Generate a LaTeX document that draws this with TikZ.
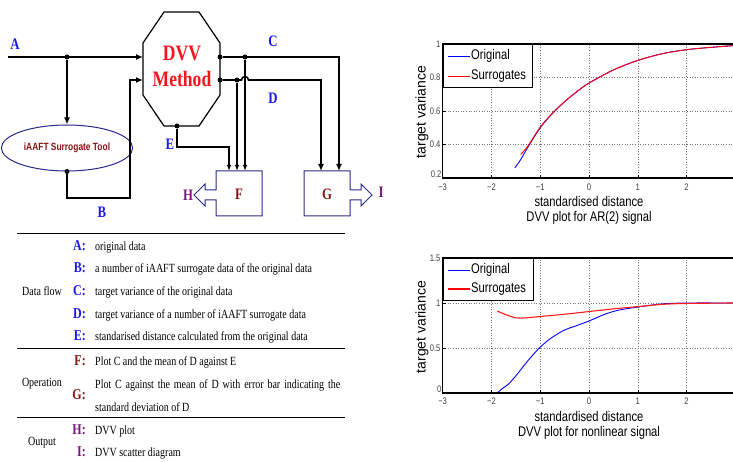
\documentclass[tikz,border=0pt]{standalone}
\usepackage{fontspec}
\setmainfont[FakeStretch=0.8]{Liberation Serif}
\setsansfont[FakeStretch=0.8]{Liberation Sans}
\newfontfamily\axisfont{Liberation Sans}
\usetikzlibrary{positioning, arrows.meta, shapes.geometric, calc}
\definecolor{flowblue}{RGB}{25, 25, 235}
\definecolor{opred}{RGB}{135, 20, 20}
\definecolor{outpurple}{RGB}{125, 20, 125}
\definecolor{boxnavy}{RGB}{40, 40, 140}
\definecolor{dvvred}{RGB}{245, 20, 30}

\tikzset{
  mainflow/.style={line width=2.2pt, -{Latex[length=7pt,width=6pt]}},
  subflow/.style={line width=1.6pt, -{Latex[length=7pt,width=6pt]}},
  outflow/.style={line width=1.2pt, -{Latex[length=6pt,width=4.5pt]}},
  junction/.style={circle, fill=black, inner sep=0pt, minimum size=5pt},
  flowlabel/.style={font=\bfseries\fontsize{16}{16}\selectfont, text=flowblue},
  boxlabel/.style={font=\bfseries\fontsize{16}{16}\selectfont},
  boxline/.style={draw=boxnavy, line width=1pt},
  rowkey/.style={anchor=east, inner sep=0pt, text height=10pt, text depth=2.5pt,
                 font=\bfseries\fontsize{15}{15}\selectfont},
  rowtext/.style={anchor=west, inner sep=0pt, text height=9pt, text depth=2.5pt,
                  font=\fontsize{12.5}{14}\selectfont},
  gridline/.style={black!55, dotted, line width=0.6pt},
  axisline/.style={black, line width=1.2pt},
  ticklabel/.style={font=\sffamily\fontsize{9.5}{9.5}\selectfont, text=black!75, inner sep=0pt},
  plotlabel/.style={font=\sffamily\fontsize{14}{14}\selectfont, inner sep=0pt},
  legendbox/.style={draw, line width=1.1pt, fill=white, inner sep=0pt, anchor=north west}
}

\begin{document}
\begin{tikzpicture}[x=1pt, y=-1pt]
  \useasboundingbox (0,0) rectangle (733,462);

  % DVV method block
  \draw[line width=1.2pt] (164,12) -- (199,12) -- (220,43) -- (220,95) -- (199,126)
    -- (164,126) -- (143,95) -- (143,43) -- cycle;
  \node[font=\bfseries\fontsize{22}{26}\selectfont, text=dvvred, align=center] (dvv) at (182,66) {DVV\\Method};
  \coordinate (srcA) at (8,57);
  \coordinate (inA) at (143,57);
  \coordinate (inB) at (143,80);
  \coordinate (bendB) at (130,198);

  \node[ellipse, draw=boxnavy, line width=1pt, minimum width=102, minimum height=46,
        font=\sffamily\bfseries\fontsize{10.5}{10.5}\selectfont, text=opred] (tool) at (67,148) {iAAFT Surrogate Tool};

  % junctions
  \node[junction] (jA) at (67,57) {};
  \node[junction] (jB) at (tool.south) {};
  \node[junction] (dC) at (220,57) {};
  \node[junction] (dD) at (220,80) {};
  \node[junction] (dE) at (177,126) {};
  \node[junction] (jC) at (245,57) {};
  \node[junction] (jD) at (237,80) {};

  % operation boxes
  \draw[boxline] (216,171) -- (262,171) -- (262,216) -- (216,216) -- (216,200) -- (205,200)
    -- (205,206) -- (194,195) -- (205,184) -- (205,190) -- (216,190) -- cycle;
  \draw[boxline] (304,171) -- (350,171) -- (350,190) -- (361,190) -- (361,184) -- (372,195)
    -- (361,206) -- (361,200) -- (350,200) -- (350,216) -- (304,216) -- cycle;
  \node[boxlabel, text=opred] (boxF) at (239,194) {F};
  \node[boxlabel, text=opred] (boxG) at (327,194) {G};
  \node[boxlabel, text=outpurple] (outH) at (188,195) {H};
  \node[boxlabel, text=outpurple] (outI) at (381,192) {I};
  \coordinate (fE) at (229,171);
  \coordinate (fD) at (237,171);
  \coordinate (fC) at (245,171);
  \coordinate (gD) at (321,171);
  \coordinate (gC) at (339,171);

  % data flow
  \draw[mainflow] (srcA) -- (inA);
  \draw[subflow] (jA) -- (tool.north);
  \draw[subflow] (jB) |- (bendB) |- (inB);
  \draw[subflow] (dC) -| (gC);
  \draw[subflow] (dD) -- ($(jC |- dD)+(-3.5,0)$) arc[start angle=180, end angle=360, radius=3.5] -| (gD);
  \draw[outflow] (jC) -- (fC);
  \draw[outflow] (jD) -- (fD);
  \draw[outflow] (dE) -- ++(0,21) -| (fE);

  \node[flowlabel] (labA) at (15,44) {A};
  \node[flowlabel] (labB) at (102,212) {B};
  \node[flowlabel] (labC) at (273,41) {C};
  \node[flowlabel] (labD) at (273,98) {D};
  \node[flowlabel] (labE) at (170,144) {E};

  % legend table
  \draw[line width=0.9pt] (17,233) -- (345,233);
  \draw[line width=0.9pt] (17,348) -- (345,348);
  \draw[line width=0.9pt] (17,417) -- (345,417);
  \node[rowtext, anchor=center] (catflow) at (42,292) {Data flow};
  \node[rowtext, anchor=center] (catop) at (42,383) {Operation};
  \node[rowtext, anchor=center] (catout) at (42,442) {Output};
  \foreach \ky/\kl/\kt in {247/A/original data,
      269/B/a number of iAAFT surrogate data of the original data,
      292/C/target variance of the original data,
      315/D/target variance of a number of iAAFT surrogate data,
      337/E/standarised distance calculated from the original data} {
    \node[rowkey, text=flowblue] (key\kl) at (86,\ky) {\kl:};
    \node[rowtext] (txt\kl) at (95,\ky) {\kt};
  }
  \node[rowkey, text=opred] (keyF) at (86,362) {F:};
  \node[rowtext] (txtF) at (95,362) {Plot C and the mean of D against E};
  \node[rowkey, text=opred] (keyG) at (86,396) {G:};
  \node[rowtext, text height=, text depth=, text width=245pt, align=justify,
        font=\fontsize{12.5}{23}\selectfont] (txtG) at (95,396)
    {Plot C against the mean of D with error bar indicating the\linebreak standard deviation of D};
  \node[rowkey, text=outpurple] (keyH) at (86,431) {H:};
  \node[rowtext] (txtH) at (95,431) {DVV plot};
  \node[rowkey, text=outpurple] (keyI) at (86,453) {I:};
  \node[rowtext] (txtI) at (95,453) {DVV scatter diagram};

  % DVV plot, AR(2) signal
  \begin{scope}[shift={(589,211.5)}, x=48.8pt, y=167.5pt]
    \foreach \gx in {-2,...,2} \draw[gridline] (\gx,0.2) -- (\gx,1);
    \foreach \gy in {0.4,0.6,0.8} \draw[gridline] (-3,\gy) -- (2.95,\gy);
    \draw[blue, line width=0.9pt] plot[smooth] coordinates {(-1.52,0.26) (-1.4,0.31) (-1.25,0.385)
      (-1,0.5) (-0.75,0.585) (-0.5,0.655) (-0.25,0.715) (0,0.767) (0.5,0.845) (1,0.902)
      (1.5,0.942) (2,0.966) (2.5,0.98) (2.95,0.99)};
    \draw[red, line width=0.9pt] plot[smooth] coordinates {(-1.4,0.34) (-1.25,0.392) (-1,0.503)
      (-0.75,0.587) (-0.5,0.656) (-0.25,0.716) (0,0.767) (0.5,0.845) (1,0.902)
      (1.5,0.942) (2,0.966) (2.5,0.98) (2.95,0.99)};
    \draw[axisline] (2.95,1) -- (-3,1) -- (-3,0.2) -- (2.95,0.2);
    \foreach \gx/\gl in {-3/−3,-2/−2,-1/−1,0/0,1/1,2/2} {
      \draw[black, line width=0.5pt] (\gx,0.2) -- ++(0pt,3pt);
      \node[ticklabel, anchor=north] at ([yshift=-6pt]\gx,0.2) {\gl};
    }
    \foreach \gy in {0.4,0.6,0.8,1} {
      \draw[black, line width=0.5pt] (-3,\gy) -- ++(3pt,0pt);
      \node[ticklabel, anchor=east] at ([xshift=-2pt]-3,\gy) {\gy};
    }
    \node[ticklabel, anchor=south east] at ([xshift=-1pt]-3,0.2) {0.2};
  \end{scope}
  \node[legendbox, minimum width=89, minimum height=43] (legAR) at (443,44) {};
  \draw[blue, line width=0.9pt] (448,56) -- (470,56);
  \draw[red, line width=0.9pt] (448,76) -- (470,76);
  \node[plotlabel, anchor=west] (legARo) at (471,56) {Original};
  \node[plotlabel, anchor=west] (legARs) at (471,76) {Surrogates};
  \node[plotlabel, font=\axisfont\fontsize{14}{14}\selectfont, rotate=90] (ylabAR) at (422,112) {target variance};
  \node[plotlabel] (xlabAR) at (589,201) {standardised distance};
  \node[plotlabel] (titleAR) at (589,218) {DVV plot for AR(2) signal};

  % DVV plot, nonlinear signal
  \begin{scope}[shift={(589,393)}, x=48.8pt, y=90pt]
    \foreach \gx in {-2,...,2} \draw[gridline] (\gx,0) -- (\gx,1.5);
    \foreach \gy in {0.5,1} \draw[gridline] (-3,\gy) -- (2.95,\gy);
    \draw[blue, line width=0.9pt] plot[smooth] coordinates {(-1.88,0) (-1.8,0.04) (-1.65,0.1)
      (-1.5,0.19) (-1.25,0.36) (-1,0.51) (-0.75,0.62) (-0.5,0.7) (-0.3,0.74) (0,0.8)
      (0.3,0.87) (0.6,0.92) (1,0.955) (1.5,0.99) (2,1) (2.95,1)};
    \draw[red!90, line width=1.1pt] plot[smooth] coordinates {(-1.88,0.91) (-1.7,0.87) (-1.5,0.835)
      (-1.3,0.835) (-1,0.85) (-0.5,0.875) (0,0.905) (0.5,0.935) (1,0.96) (1.5,0.985)
      (2,0.995) (2.95,1)};
    \draw[axisline] (2.95,1.5) -- (-3,1.5) -- (-3,0) -- (2.95,0);
    \foreach \gx/\gl in {-3/−3,-2/−2,-1/−1,0/0,1/1,2/2} {
      \draw[black, line width=0.5pt] (\gx,0) -- ++(0pt,3pt);
      \node[ticklabel, anchor=north] at ([yshift=-5pt]\gx,0) {\gl};
    }
    \foreach \gy in {0.5,1,1.5} {
      \draw[black, line width=0.5pt] (-3,\gy) -- ++(3pt,0pt);
      \node[ticklabel, anchor=east] at ([xshift=-2pt]-3,\gy) {\gy};
    }
    \node[ticklabel, anchor=south east] at ([xshift=-1pt]-3,0) {0};
  \end{scope}
  \node[legendbox, minimum width=90, minimum height=42] (legNL) at (443,258) {};
  \draw[blue, line width=0.9pt] (448,270) -- (470,270);
  \draw[red, line width=1.1pt] (448,289) -- (470,289);
  \node[plotlabel, anchor=west] (legNLo) at (471,270) {Original};
  \node[plotlabel, anchor=west] (legNLs) at (471,289) {Surrogates};
  \node[plotlabel, font=\axisfont\fontsize{14}{14}\selectfont, rotate=90] (ylabNL) at (422,327) {target variance};
  \node[plotlabel] (xlabNL) at (589,416) {standardised distance};
  \node[plotlabel] (titleNL) at (589,433) {DVV plot for nonlinear signal};
\end{tikzpicture}
\end{document}
